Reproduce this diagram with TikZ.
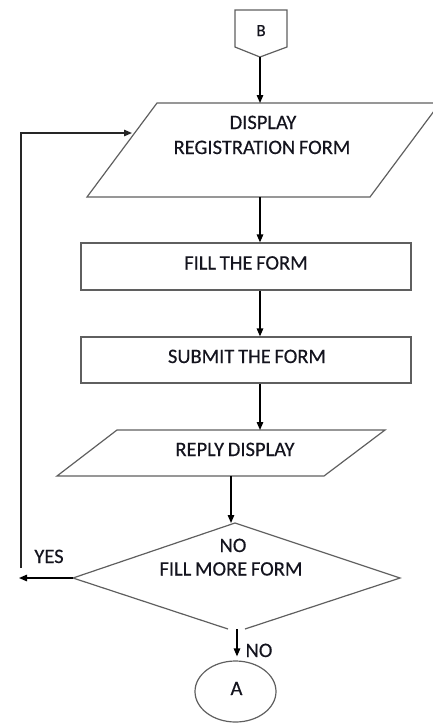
\documentclass[tikz,border=0pt]{standalone}
\usepackage{fontspec}
\setmainfont[FakeBold=0.35,WordSpace=0.8]{Carlito}
\usetikzlibrary{arrows.meta,shapes.geometric}
\definecolor{linegray}{RGB}{95,95,95}
\definecolor{textcol}{RGB}{20,20,30}
\begin{document}
\begin{tikzpicture}[x=1pt,y=-1pt,
  shapeline/.style={draw=linegray, line width=1.2pt, line join=miter},
  flow/.style={draw=black, line width=1.4pt, -{Triangle[length=8pt,width=6.5pt]}},
  lbl/.style={inner sep=0pt, anchor=base, text=textcol, font=\fontsize{20.5}{25}\selectfont},
  smalllbl/.style={inner sep=0pt, anchor=base, text=textcol, font=\fontsize{17}{20}\selectfont}]
\useasboundingbox (0,0) rectangle (433,724);
\clip (0,0) rectangle (433,724);

% off-page connector B
\draw[shapeline] (235,10) -- (287,10) -- (287,47) -- (260,57) -- (235,47) -- cycle;
\coordinate (Bout) at (260,57);
\node[smalllbl] (Blbl) at (261,36) {B};

% display registration form (parallelogram)
\draw[shapeline] (157,103) -- (440,103) -- (370,197) -- (87,197) -- cycle;
\coordinate (dispin) at (260,103);
\coordinate (dispout) at (260,197);
\coordinate (displeft) at (132,133);
\node[lbl] (disp1) at (263,129) {DISPLAY};
\node[lbl] (disp2) at (262,154) {REGISTRATION FORM};

% fill the form
\node[shapeline, rectangle, minimum width=330pt, minimum height=47pt, inner sep=0pt] (fill) at (246,266.5) {};
\node[lbl] (filllbl) at (246,269.5) {FILL THE FORM};

% submit the form
\node[shapeline, rectangle, minimum width=330pt, minimum height=46pt, inner sep=0pt] (submit) at (246,360) {};
\node[lbl] (submitlbl) at (247,363) {SUBMIT THE FORM};

% reply display (parallelogram)
\draw[shapeline] (117,430) -- (385,430) -- (324,476) -- (57,476) -- cycle;
\coordinate (replyin) at (260,430);
\coordinate (replyout) at (231,476);
\node[lbl] (replylbl) at (235,456) {REPLY DISPLAY};

% decision diamond
\draw[shapeline] (228,629) -- (73,578) -- (235,523) -- (400,578) -- (245,629);
\coordinate (dtop) at (231,523);
\coordinate (dleft) at (73,578);
\coordinate (dbottom) at (237,629);
\node[lbl] (dno) at (233,552) {NO};
\node[lbl] (dfill) at (231,575.5) {FILL MORE FORM};

% connector A
\node[shapeline, ellipse, minimum width=81pt, minimum height=61pt, inner sep=0pt] (A) at (235.5,691.5) {};
\node[lbl] (Albl) at (236.5,695) {A};

% YES branch
\coordinate (yesend) at (19,578);
\coordinate (loopstart) at (21,568);
\node[lbl] (yes) at (49,563) {YES};
\node[lbl] (nolbl) at (259,657) {NO};

% connectors
\draw[flow] (Bout) -- (dispin);
\draw[flow] (dispout) -- (fill.north -| dispout);
\draw[flow] (fill.south -| dispout) -- (submit.north -| dispout);
\draw[flow] (submit.south -| dispout) -- (replyin);
\draw[flow] (replyout) -- (dtop);
\draw[flow] (dbottom) -- ([yshift=4pt]A.north -| dbottom);
\draw[flow] (dleft) -- (yesend);
\draw[flow, draw=black!85] (loopstart) |- (displeft);
\end{tikzpicture}
\end{document}
